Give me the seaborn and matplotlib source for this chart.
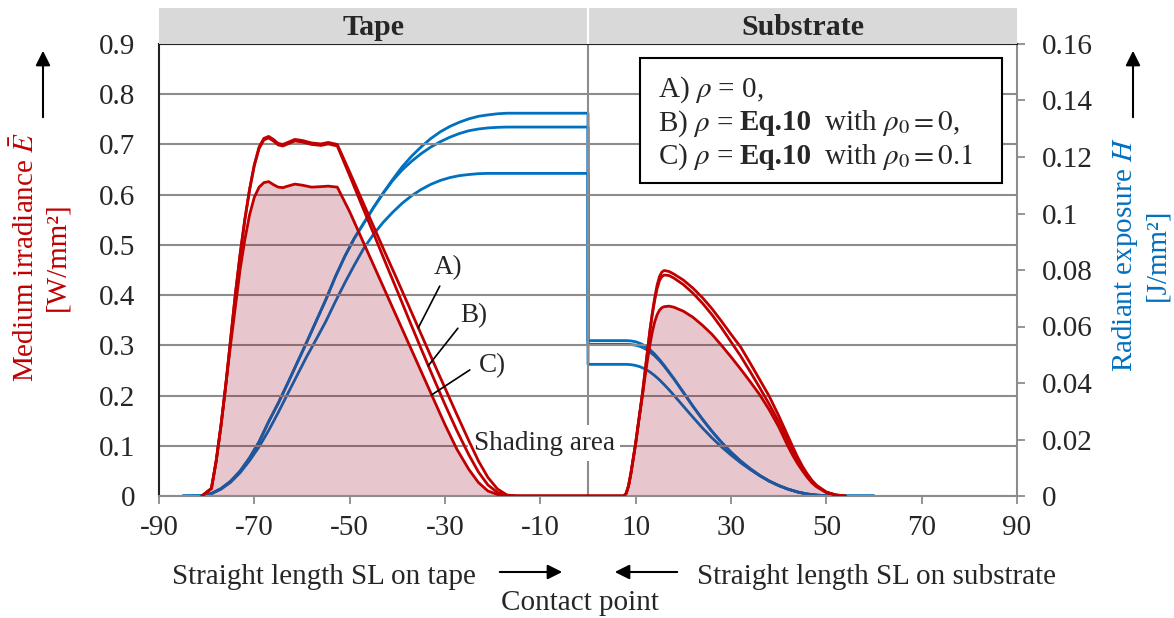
import numpy as np
import pandas as pd
import matplotlib
matplotlib.use("Agg")
import matplotlib.pyplot as plt
from matplotlib.patches import Rectangle
from matplotlib.ticker import FuncFormatter
import seaborn as sns

# Straight length SL [mm] for the irradiance curves (tape side, substrate side)
sl_red_tape = [-81, -79, -78, -77, -76, -75, -74, -73, -72, -71,
               -70, -69, -68, -67, -66, -65, -64, -63, -61.5, -60,
               -58, -56, -54.5, -52.6, -50, -47.5, -45, -42.5, -40, -37.5,
               -35, -32.5, -30, -27.5, -25, -23, -21, -19, -17, -15]
sl_red_sub = [7.5, 8, 8.5, 9, 9.5, 10, 10.5, 11, 11.5, 12,
              12.5, 13, 13.5, 14, 14.5, 15, 15.5, 16, 17, 18,
              20, 22, 24, 26, 28, 30, 32, 34, 36, 38,
              40, 42, 43, 44, 45, 46, 47, 48, 50, 52, 54]

# Medium irradiance E [W/mm2]
e_tape_a = [0, 0.015, 0.07, 0.14, 0.22, 0.31, 0.40, 0.48, 0.55, 0.61,
            0.66, 0.695, 0.712, 0.716, 0.71, 0.702, 0.70, 0.704, 0.71, 0.708,
            0.703, 0.701, 0.704, 0.70, 0.645, 0.591, 0.537, 0.483, 0.43, 0.376,
            0.322, 0.268, 0.215, 0.162, 0.11, 0.07, 0.037, 0.014, 0.002, 0]
e_tape_b = [0, 0.015, 0.07, 0.14, 0.22, 0.31, 0.40, 0.48, 0.55, 0.61,
            0.658, 0.692, 0.709, 0.713, 0.707, 0.699, 0.697, 0.701, 0.707, 0.705,
            0.70, 0.698, 0.701, 0.697, 0.638, 0.58, 0.523, 0.465, 0.408, 0.35,
            0.293, 0.237, 0.182, 0.13, 0.082, 0.048, 0.022, 0.007, 0.001, 0]
e_tape_c = [0, 0.015, 0.07, 0.14, 0.22, 0.30, 0.375, 0.45, 0.51, 0.56,
            0.595, 0.615, 0.624, 0.626, 0.62, 0.615, 0.614, 0.617, 0.621, 0.619,
            0.615, 0.616, 0.617, 0.615, 0.566, 0.513, 0.46, 0.407, 0.354, 0.301,
            0.248, 0.195, 0.142, 0.093, 0.053, 0.027, 0.01, 0.003, 0, 0]
e_sub_a = [0, 0.005, 0.02, 0.045, 0.075, 0.105, 0.14, 0.175, 0.21, 0.25,
           0.29, 0.33, 0.365, 0.395, 0.42, 0.437, 0.446, 0.449, 0.447, 0.442,
           0.43, 0.414, 0.395, 0.373, 0.348, 0.322, 0.297, 0.265, 0.232, 0.199,
           0.16, 0.118, 0.097, 0.077, 0.059, 0.044, 0.031, 0.021, 0.008, 0.002, 0]
e_sub_b = [0, 0.005, 0.02, 0.045, 0.075, 0.105, 0.14, 0.175, 0.21, 0.25,
           0.29, 0.33, 0.362, 0.39, 0.413, 0.429, 0.437, 0.44, 0.439, 0.434,
           0.421, 0.404, 0.384, 0.361, 0.335, 0.307, 0.279, 0.248, 0.216, 0.183,
           0.148, 0.109, 0.09, 0.071, 0.055, 0.041, 0.029, 0.019, 0.007, 0.002, 0]
e_sub_c = [0, 0.005, 0.02, 0.045, 0.075, 0.105, 0.14, 0.172, 0.205, 0.24,
           0.272, 0.302, 0.327, 0.347, 0.361, 0.37, 0.375, 0.377, 0.378, 0.376,
           0.368, 0.356, 0.34, 0.322, 0.3, 0.277, 0.253, 0.228, 0.202, 0.172,
           0.138, 0.098, 0.08, 0.064, 0.05, 0.037, 0.026, 0.018, 0.007, 0.002, 0]

# Straight length SL [mm] for the radiant exposure curves
sl_blue_tape = [-85, -81, -79, -77, -75, -73, -71, -69, -67, -65,
                -63, -61, -59, -57, -55, -53, -51, -49, -47, -45,
                -43, -41, -39, -37, -35, -33, -31, -29, -27, -25,
                -23, -21, -19, -17, 0]
sl_blue_sub = [0, 8, 9, 10, 11, 12, 13, 14, 15, 16,
               17, 18, 20, 22, 24, 26, 28, 30, 32, 34,
               36, 38, 40, 42, 44, 46, 48, 50, 52, 56, 60]

# Radiant exposure H [J/mm2]
h_tape_a = [0, 0.0001, 0.0009, 0.0026, 0.0052, 0.0088, 0.0135, 0.0192, 0.0263, 0.0328,
            0.0399, 0.0472, 0.0545, 0.062, 0.0695, 0.0776, 0.0849, 0.0913, 0.0967, 0.1021,
            0.1072, 0.112, 0.1165, 0.1203, 0.1236, 0.1265, 0.1289, 0.1308, 0.1323, 0.1335,
            0.1344, 0.1349, 0.1353, 0.1355, 0.1355]
h_tape_b = [0, 0.0001, 0.0009, 0.0026, 0.0052, 0.0088, 0.0135, 0.0192, 0.0263, 0.0328,
            0.0399, 0.0472, 0.0545, 0.062, 0.0695, 0.0776, 0.0849, 0.0913, 0.0967, 0.1021,
            0.1071, 0.1116, 0.1154, 0.1185, 0.1212, 0.1235, 0.1254, 0.1270, 0.1283, 0.1293,
            0.1299, 0.1303, 0.1305, 0.1306, 0.1306]
h_tape_c = [0, 0.0001, 0.0008, 0.0024, 0.0048, 0.0082, 0.0125, 0.0174, 0.0232, 0.0295,
            0.0362, 0.0428, 0.0494, 0.0555, 0.0618, 0.0688, 0.0755, 0.0818, 0.0878, 0.0926,
            0.0968, 0.1004, 0.1036, 0.1063, 0.1085, 0.1103, 0.1117, 0.1127, 0.1134, 0.1138,
            0.1141, 0.1142, 0.1142, 0.1142, 0.1142]
h_sub_a = [0.055, 0.055, 0.0549, 0.0546, 0.054, 0.0531, 0.0518, 0.0502, 0.0483, 0.0462,
           0.0439, 0.0416, 0.0367, 0.0318, 0.0272, 0.0229, 0.019, 0.0155, 0.0124, 0.0097,
           0.0073, 0.0053, 0.0037, 0.0024, 0.0014, 0.0007, 0.0003, 0.0001, 0, 0, 0]
h_sub_b = [0.0537, 0.0537, 0.0536, 0.0534, 0.0529, 0.0521, 0.051, 0.0496, 0.0479, 0.0459,
           0.0437, 0.0415, 0.0367, 0.0318, 0.0272, 0.0229, 0.019, 0.0155, 0.0124, 0.0097,
           0.0073, 0.0053, 0.0037, 0.0024, 0.0014, 0.0007, 0.0003, 0.0001, 0, 0, 0]
h_sub_c = [0.0466, 0.0466, 0.0465, 0.0462, 0.0457, 0.0449, 0.0439, 0.0426, 0.0411, 0.0394,
           0.0376, 0.0357, 0.0318, 0.0279, 0.0241, 0.0206, 0.0174, 0.0145, 0.0118, 0.0094,
           0.0072, 0.0053, 0.0037, 0.0024, 0.0014, 0.0007, 0.0003, 0.0001, 0, 0, 0]

# legend rows: (text, bold?) pieces, joined with a word space
legend_rows = [
    [("A) $\\rho$ = 0,", False)],
    [("B) $\\rho$ =", False), ("Eq.10", True), (" with $\\rho_0 = 0$,", False)],
    [("C) $\\rho$ =", False), ("Eq.10", True), (" with $\\rho_0 = 0.1$", False)],
]

RED = "#C00000"
BLUE = "#0070C0"
GRID = "#8c8c8c"
FILL = "#96001e"
W, H = 1174, 618
FS = 21


def make_curve(x_tape, y_tape, x_sub, y_sub):
    """Join the tape and substrate parts into one line."""
    return pd.DataFrame({"SL": list(x_tape) + list(x_sub),
                         "val": list(y_tape) + list(y_sub)})


def px(x, y):
    """Figure fraction from pixel position (top-left origin)."""
    return x / W, 1 - y / H


sns.set_theme(style="white")
plt.rcParams["font.family"] = ["Liberation Serif", "DejaVu Serif"]
plt.rcParams["mathtext.fontset"] = "stix"

fig = plt.figure(figsize=(W / 100, H / 100), dpi=100)
left, bottom = px(159, 496)
ax_h = fig.add_axes([left, bottom, (1017 - 159) / W, (496 - 44) / H])
ax_e = ax_h.twinx()

# radiant exposure (bottom layer)
for yt, ys in [(h_tape_a, h_sub_a), (h_tape_b, h_sub_b), (h_tape_c, h_sub_c)]:
    df = make_curve(sl_blue_tape, yt, sl_blue_sub, ys)
    sns.lineplot(data=df, x="SL", y="val", ax=ax_h, sort=False, estimator=None,
                 color=BLUE, lw=2.0)

# irradiance + shading
curves = {}
for key, yt, ys in [("A", e_tape_a, e_sub_a), ("B", e_tape_b, e_sub_b), ("C", e_tape_c, e_sub_c)]:
    curves[key] = make_curve(sl_red_tape, yt, sl_red_sub, ys)

ax_e.fill_between(curves["C"]["SL"], 0, curves["C"]["val"], color=FILL, alpha=0.22,
                  lw=0, zorder=2)
for key in ["A", "B", "C"]:
    sns.lineplot(data=curves[key], x="SL", y="val", ax=ax_e, sort=False, estimator=None,
                 color=RED, lw=2.0, zorder=3)

ax_h.set_xlim(-90, 90)
ax_h.set_ylim(0, 0.16)
ax_e.set_ylim(0, 0.9)
for a in (ax_h, ax_e):
    a.set_xlabel("")
    a.set_ylabel("")

ax_h.yaxis.tick_right()
ax_e.yaxis.tick_left()
ax_h.set_xticks(np.arange(-90, 91, 20))
ax_h.set_yticks(np.arange(0, 0.161, 0.02))
ax_e.set_yticks(np.arange(0, 0.91, 0.1))
fmt = FuncFormatter(lambda v, p: f"{v:.10g}" if abs(v) > 1e-9 else "0")
ax_h.yaxis.set_major_formatter(fmt)
ax_e.yaxis.set_major_formatter(fmt)
ax_h.xaxis.set_major_formatter(FuncFormatter(lambda v, p: f"{v:.0f}"))

ax_h.tick_params(axis="x", bottom=True, direction="out", length=6, width=1.3,
                 color=GRID, labelsize=FS, pad=8)
ax_h.tick_params(axis="y", right=True, left=False, direction="out", length=6, width=1.3,
                 color=GRID, labelsize=FS, pad=12)
ax_e.tick_params(axis="y", left=True, right=False, length=0, labelsize=FS, pad=17)

ax_e.set_axisbelow(True)
ax_e.grid(axis="y", color=GRID, lw=1.5)
ax_e.axvline(0, color=GRID, lw=1.5, zorder=0.6)

for s in ax_h.spines.values():
    s.set_visible(False)
for name, col in [("left", "#222222"), ("top", "#222222"), ("right", GRID), ("bottom", GRID)]:
    ax_e.spines[name].set_visible(True)
    ax_e.spines[name].set_color(col)
    ax_e.spines[name].set_linewidth(1.5)

ax_e.text(5.6, 0.105, "Shading area", ha="right", va="center", fontsize=19.5,
          bbox=dict(fc="white", ec="none", pad=4), zorder=1.5)

# curve labels with leader lines
tape_part = {k: v[v["SL"] < -20] for k, v in curves.items()}
leaders = [("A)", -29.3, 0.454, -31.1, 0.418, -35.6, "A"),
           ("B)", -24.0, 0.360, -27.3, 0.334, -33.5, "B"),
           ("C)", -20.1, 0.259, -24.8, 0.251, -32.8, "C")]
for lab, tx, ty, sx, sy, cx, key in leaders:
    dfc = tape_part[key]
    cy = np.interp(cx, dfc["SL"], dfc["val"])
    ax_e.text(tx, ty, lab, ha="center", va="center", fontsize=19.5)
    ax_e.plot([sx, cx], [sy, cy], color="black", lw=1.2, zorder=4)

# header band
hl, hb = px(159, 44)
ax_top = fig.add_axes([hl, hb, (1017 - 159) / W, 36 / H])
ax_top.set_xlim(-90, 90)
ax_top.set_ylim(0, 1)
ax_top.set_facecolor("#d9d9d9")
ax_top.axvline(0, color="white", lw=1.5)
for s in ax_top.spines.values():
    s.set_visible(False)
ax_top.set_xticks([])
ax_top.set_yticks([])
ax_top.text(-45, 0.45, "Tape", ha="center", va="center", fontsize=21.5, fontweight="bold")
ax_top.text(45, 0.45, "Substrate", ha="center", va="center", fontsize=21.5, fontweight="bold")

# legend box
bx, by = px(640, 183)
fig.patches.append(Rectangle((bx, by), 362 / W, 125 / H, transform=fig.transFigure,
                             fc="white", ec="black", lw=1.5, zorder=5))
renderer = fig.canvas.get_renderer()
for i, row in enumerate(legend_rows):
    x_pix = 658
    y_pix = H - (97 + 33.5 * i)
    for j, (txt, bold) in enumerate(row):
        if j > 0:
            x_pix += 6
        t = fig.text(x_pix / W, y_pix / H, txt, ha="left", va="baseline", fontsize=FS,
                     fontweight="bold" if bold else "normal", zorder=6)
        x_pix = t.get_window_extent(renderer).x1

# axis labels with arrows
fig.text(*px(41, 257), "Medium irradiance $\\bar{E}$\n[W/mm²]", rotation=90, color=RED,
         ha="center", va="center", multialignment="center", fontsize=FS, linespacing=1.2)
fig.text(*px(1140, 255), "Radiant exposure $H$\n[J/mm²]", rotation=90, color=BLUE,
         ha="center", va="center", multialignment="center", fontsize=FS, linespacing=1.2)

arrow = dict(arrowstyle="-|>", color="black", lw=1.5, mutation_scale=22)
for x0, y0, x1, y1 in [(43, 120, 43, 48), (1133, 120, 1133, 48),
                       (497, 572, 565, 572), (680, 572, 612, 572)]:
    ax_h.annotate("", xy=(x1, H - y1), xycoords="figure pixels",
                  xytext=(x0, H - y0), textcoords="figure pixels",
                  arrowprops=arrow, annotation_clip=False)

fig.text(*px(172, 577), "Straight length SL on tape", ha="left", va="center", fontsize=FS)
fig.text(*px(697, 577), "Straight length SL on substrate", ha="left", va="center", fontsize=FS)
fig.text(*px(580, 603), "Contact point", ha="center", va="center", fontsize=FS)

fig.savefig("out.png", dpi=100)
